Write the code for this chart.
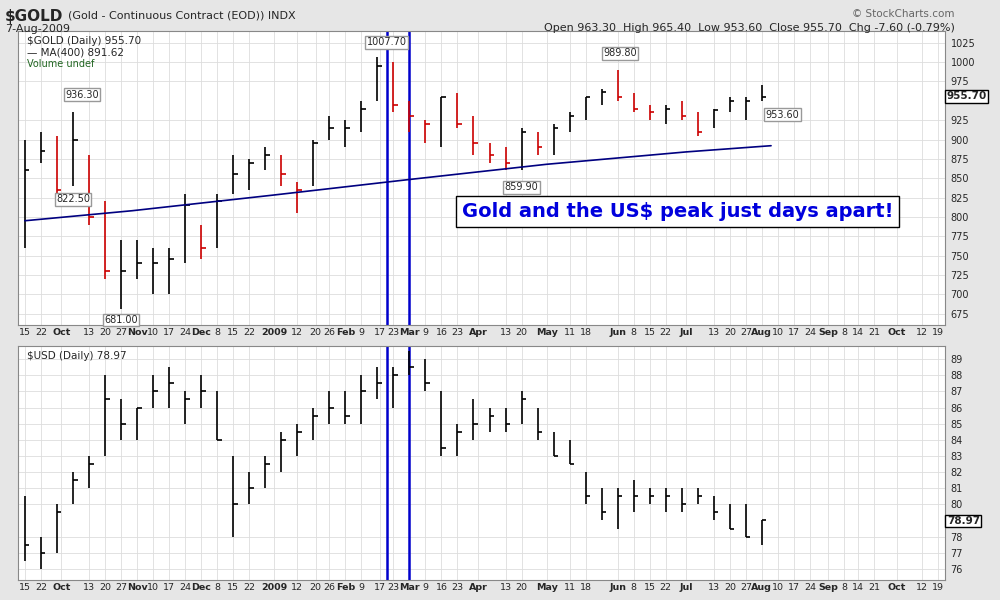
import numpy as np, pandas as pd, seaborn as sns, matplotlib
matplotlib.use("Agg")
import matplotlib.pyplot as plt, matplotlib.dates as mdates

weeks = pd.date_range("2008-09-15", "2009-08-03", freq="W-MON")
gold_high = [900,910,905,936,880,820,770,770,760,760,830,790,830,880,875,890,880,845,900,930,925,950,1007,1000,950,925,955,960,930,895,890,915,910,920,935,955,965,990,960,945,945,950,935,940,955,955,970]
gold_low = [760,870,830,840,790,720,681,720,700,700,740,745,760,830,835,860,840,805,840,900,890,910,950,935,910,895,890,915,880,870,860,860,880,880,910,925,945,950,935,925,920,925,905,915,935,925,950]
gold_close = [860,885,835,900,800,730,730,740,740,745,815,760,820,855,870,880,855,835,895,915,915,940,995,945,930,920,955,920,895,880,870,910,890,915,930,955,962,955,940,935,940,930,910,938,950,950,955]
ma_dates = pd.to_datetime(["2008-09-15","2008-11-01","2009-01-01","2009-03-01","2009-05-01","2009-07-01","2009-08-07"])
ma_vals = [795,808,828,848,868,884,892]
usd_high = [80.5,78,80,82,83,88,86.5,86,88,88.5,87,88,87,83,82,83,84.5,85,86,87,87,88,88.5,88.5,89.5,89,87,85,86.5,86,86,87,86,84.5,84,82,81,81,81.5,81,81,81,81,80.5,80,80,79]
usd_low = [76.5,76,77,80,81,83,84,84,86,86,85,86,84,78,80,81,82,83,84,85,85,85,86.5,86,88,87,83,83,84,84.5,84.5,85,84,83,82.5,80,79,78.5,79.5,80,79.5,79.5,80,79,78.5,78,77.5]
usd_close = [77.5,77,79.5,81.5,82.5,86.5,85,86,87,87.5,86.5,87,84,80,81,82.5,84,84.5,85.5,86,85.5,87,87.5,88,88.5,87.5,83.5,84.5,85,85.5,85,86.5,84.5,83,82.5,80.5,79.5,80.5,80.5,80.5,80.5,80,80.5,79.5,78.5,78,79]
gold_ticks = [675,700,725,750,775,800,825,850,875,900,925,975,1000,1025]
usd_ticks = [76,77,78,80,81,82,83,84,85,86,87,88,89]
tick_dates = ["2008-09-15","2008-09-22","2008-10-01","2008-10-13","2008-10-20","2008-10-27","2008-11-03","2008-11-10","2008-11-17","2008-11-24","2008-12-01","2008-12-08","2008-12-15","2008-12-22","2009-01-02","2009-01-12","2009-01-20","2009-01-26","2009-02-02","2009-02-09","2009-02-17","2009-02-23","2009-03-02","2009-03-09","2009-03-16","2009-03-23","2009-04-01","2009-04-13","2009-04-20","2009-05-01","2009-05-11","2009-05-18","2009-06-01","2009-06-08","2009-06-15","2009-06-22","2009-07-01","2009-07-13","2009-07-20","2009-07-27","2009-08-03","2009-08-10","2009-08-17","2009-08-24","2009-09-01","2009-09-08","2009-09-14","2009-09-21","2009-10-01","2009-10-12","2009-10-19"]
tick_labels = ["15","22","Oct","13","20","27","Nov","10","17","24","Dec","8","15","22","2009","12","20","26","Feb","9","17","23","Mar","9","16","23","Apr","13","20","May","11","18","Jun","8","15","22","Jul","13","20","27","Aug","10","17","24","Sep","8","14","21","Oct","12","19"]
bold = {"Oct","Nov","Dec","2009","Feb","Mar","Apr","May","Jun","Jul","Aug","Sep"}

sns.set_style("white")
plt.rcParams["font.family"] = ["DejaVu Sans"]
fig = plt.figure(figsize=(10, 6), dpi=100, facecolor="#e6e6e6")
ax1 = fig.add_axes([0.018, 0.458, 0.927, 0.49])
ax2 = fig.add_axes([0.018, 0.033, 0.927, 0.39])
tk = pd.to_datetime(tick_dates)
xmin, xmax = pd.Timestamp("2008-09-12"), pd.Timestamp("2009-10-22")

def bars(ax, hi, lo, cl, color_by_dir):
    prev = None
    for i, d in enumerate(weeks):
        c = "black"
        if color_by_dir and prev is not None and cl[i] < prev:
            c = "#cc0000"
        ax.vlines(d, lo[i], hi[i], color=c, lw=1.2)
        ax.hlines(cl[i], d, d + pd.Timedelta(days=2), color=c, lw=1.2)
        prev = cl[i]

for ax in (ax1, ax2):
    ax.set_facecolor("white")
    ax.set_xlim(xmin, xmax)
    ax.set_xticks(tk)
    ax.grid(True, color="#dddddd", lw=0.6)
    ax.yaxis.tick_right()
    ax.tick_params(axis="x", labelsize=6.8, length=0, pad=2)
    ax.tick_params(axis="y", labelsize=7, length=0, pad=4)
    for s in ax.spines.values():
        s.set_color("#888888")
    ax.axvline(pd.Timestamp("2009-02-20"), color="#0000cc", lw=1.8)
    ax.axvline(pd.Timestamp("2009-03-02"), color="#0000cc", lw=1.8)
    ax.set_xticklabels(tick_labels)
    for t in ax.get_xticklabels():
        if t.get_text() in bold:
            t.set_fontweight("bold")

bars(ax1, gold_high, gold_low, gold_close, True)
sns.lineplot(x=ma_dates, y=ma_vals, ax=ax1, color="#000080", lw=1.2)
ax1.set_ylim(660, 1040)
ax1.set_yticks(gold_ticks)
ax1.text(0.01, 0.985, "$GOLD (Daily) 955.70\n— MA(400) 891.62", transform=ax1.transAxes, fontsize=7.5, va="top")
ax1.text(0.01, 0.905, "Volume undef", transform=ax1.transAxes, fontsize=7, va="top", color="#226622")
ax1.text(pd.Timestamp("2009-03-25"), 800, "Gold and the US$ peak just days apart!", fontsize=14, fontweight="bold", color="#0000dd",
         bbox=dict(facecolor="white", edgecolor="black"))
for d, v, lab, off in [("2008-10-10", 936.3, "936.30", 12), ("2008-10-06", 822.5, "822.50", 0), ("2008-10-27", 681, "681.00", -8),
                  ("2009-02-20", 1007.7, "1007.70", 10), ("2009-06-02", 989.8, "989.80", 12), ("2009-04-20", 859.9, "859.90", -12), ("2009-08-12", 953.6, "953.60", -12)]:
    ax1.annotate(lab, (pd.Timestamp(d), v), xytext=(0, off), textcoords="offset points", fontsize=7, ha="center", va="center",
                 bbox=dict(facecolor="white", edgecolor="#999999", pad=1))
ax1.text(1.002, (955.7-660)/380, "955.70", transform=ax1.transAxes, fontsize=7.5, fontweight="bold", va="center",
         bbox=dict(facecolor="white", edgecolor="black", pad=1))
ax1.set_xlabel(""); ax1.set_ylabel("")

bars(ax2, usd_high, usd_low, usd_close, False)
ax2.set_ylim(75.3, 89.8)
ax2.set_yticks(usd_ticks)
ax2.text(0.01, 0.98, "$USD (Daily) 78.97", transform=ax2.transAxes, fontsize=7.5, va="top")
ax2.text(1.002, (78.97-75.3)/14.5, "78.97", transform=ax2.transAxes, fontsize=7.5, fontweight="bold", va="center",
         bbox=dict(facecolor="white", edgecolor="black", pad=1))

fig.text(0.005, 0.985, "$GOLD", fontsize=11, fontweight="bold", va="top")
fig.text(0.068, 0.982, "(Gold - Continuous Contract (EOD)) INDX", fontsize=8, va="top")
fig.text(0.005, 0.96, "7-Aug-2009", fontsize=8, va="top")
fig.text(0.955, 0.985, "© StockCharts.com", fontsize=7.5, va="top", ha="right", color="#666666")
fig.text(0.955, 0.962, "Open 963.30  High 965.40  Low 953.60  Close 955.70  Chg -7.60 (-0.79%)", fontsize=8, va="top", ha="right")
fig.savefig("out.png", dpi=100, facecolor=fig.get_facecolor())
